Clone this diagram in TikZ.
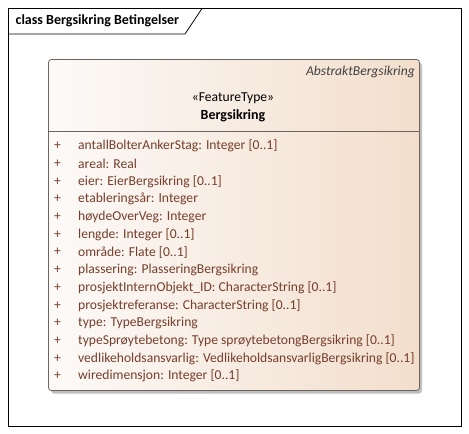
\documentclass[tikz,border=0pt]{standalone}
\usepackage{fontspec}
\setmainfont{Carlito}
\usetikzlibrary{shadows}
\definecolor{attrbrown}{RGB}{118,62,44}
\definecolor{boxpeach}{RGB}{243,222,204}
\definecolor{boxwhite}{RGB}{252,250,248}
\definecolor{boxedge}{RGB}{110,100,95}
\tikzset{
  attr/.style={anchor=west, inner sep=0pt, text=attrbrown, font=\fontsize{13.6}{14}\selectfont},
  plus/.style={anchor=center, inner sep=0pt, text=attrbrown, font=\fontsize{13.6}{14}\selectfont}
}
\begin{document}
\begin{tikzpicture}[x=1pt,y=-1pt]
            \useasboundingbox (0,0) rectangle (469,434);
            % frame
            \draw [black, line width=0.8pt] (8.5,8.5) rectangle (461.5,426);
            \draw [black, line width=0.8pt] (8.5,34) -- (185,34) -- (202,8.5);
            \node (title) [anchor=west, inner sep=0pt, font=\fontsize{14}{15}\bfseries\selectfont] at (15.5,21) {class Bergsikring Betingelser};
            % class box
            \path [fill=black!25, rounded corners=3pt] (51,62.5) rectangle (422,393.5);
            \shade [left color=boxwhite, right color=boxpeach, draw=boxedge, line width=0.8pt, rounded corners=3pt] (48.5,59.5) rectangle (419.5,390.5);
            \draw [boxedge, line width=0.8pt] (48.5,131) -- (419.5,131);
            \node (abstract) [anchor=east, inner sep=0pt, font=\fontsize{13.6}{14}\itshape\selectfont, text=black!75] at (415,71.5) {AbstraktBergsikring};
            \node (stereo) [inner sep=0pt, font=\fontsize{13.6}{14}\selectfont] at (233,98) {«FeatureType»};
            \node (name) [inner sep=0pt, font=\fontsize{14}{15}\bfseries\selectfont] at (233,115.5) {Bergsikring};
            % attributes
            \foreach \txt [count=\i from 0] in {antallBolterAnkerStag: Integer [0..1], areal: Real, eier: EierBergsikring [0..1], etableringsår: Integer, høydeOverVeg: Integer, lengde: Integer [0..1], område: Flate [0..1], plassering: PlasseringBergsikring, prosjektInternObjekt\_ID: CharacterString [0..1], prosjektreferanse: CharacterString [0..1], type: TypeBergsikring, typeSprøytebetong: Type sprøytebetongBergsikring [0..1], vedlikeholdsansvarlig: VedlikeholdsansvarligBergsikring [0..1], wiredimensjon: Integer [0..1]} {
              \node (plus\i) [plus] at (57.5,{146+17.7*\i}) {+};
              \node (attr\i) [attr] at (78,{146+17.7*\i}) {\txt};
            }
        \end{tikzpicture}
\end{document}
